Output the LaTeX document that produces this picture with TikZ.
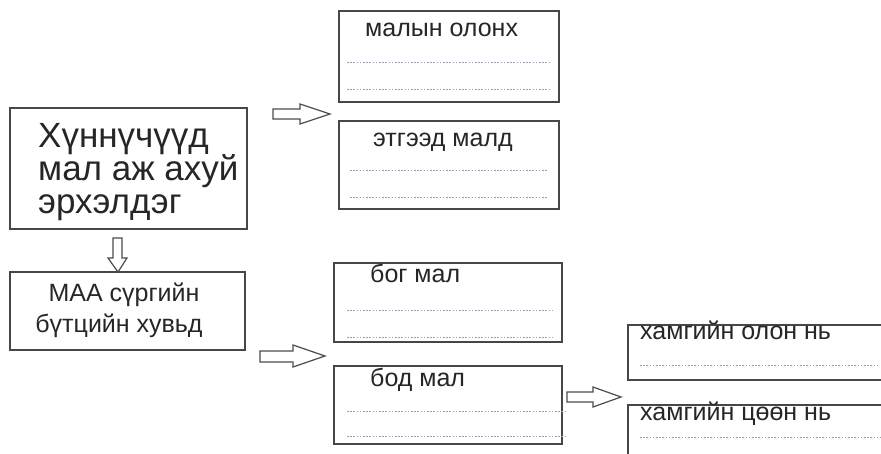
\documentclass[tikz,border=0pt]{standalone}
\usepackage{fontspec}
\setmainfont{Liberation Sans}
\definecolor{dotcol}{RGB}{150,158,180}
\begin{document}
\begin{tikzpicture}[x=1pt,y=-1pt,
  box/.style={draw=black!72,line width=1.5pt},
  dots/.style={draw=dotcol,line width=0.9pt,dash pattern=on 1.6pt off 1.6pt},
  blockarrow/.style={draw=black!70,line width=1.2pt,fill=white,line join=miter},
  bigtxt/.style={anchor=base west,inner sep=0pt,font=\fontsize{35}{37}\selectfont,text=black!85},
  txt/.style={anchor=base west,inner sep=0pt,font=\fontsize{25}{29}\selectfont,text=black!85}]
\useasboundingbox (0,0) rectangle (881,454);
\clip (0,0) rectangle (881,454);
\fill[white] (0,0) rectangle (881,454);

% main box
\draw[box] (10,108) rectangle (247,229);
\node[bigtxt] (h1) at (38,148) {Хүннүчүүд};
\node[bigtxt] (h2) at (38,181) {мал аж ахуй};
\node[bigtxt] (h3) at (38,214) {эрхэлдэг};

% MAA box
\draw[box] (10,272) rectangle (245,350);
\node[txt,anchor=base] (m1) at (124,302) {МАА сүргийн};
\node[txt,anchor=base] (m2) at (119,333) {бүтцийн хувьд};

% upper right boxes
\draw[box] (339,11) rectangle (559,102);
\node[txt] (a1) at (365,37) {малын олонх};
\draw[dots] (347,62) -- (550,62);
\draw[dots] (347,89) -- (550,89);

\draw[box] (339,121) rectangle (559,209);
\node[txt] (b1) at (373,147) {этгээд малд};
\draw[dots] (350,170) -- (548,170);
\draw[dots] (350,197) -- (548,197);

% lower middle boxes
\draw[box] (334,263) rectangle (562,342);
\node[txt] (c1) at (370,283) {бог мал};
\draw[dots] (347,310) -- (552,310);
\draw[dots] (347,337) -- (552,337);

\draw[box] (334,366) rectangle (562,444);
\node[txt] (d1) at (370,386) {бод мал};
\draw[dots] (347,411) -- (565,411);
\draw[dots] (347,436) -- (565,436);

% far right boxes
\draw[box] (628,325) rectangle (900,380);
\node[txt] (e1) at (640,340) {хамгийн олон нь};
\draw[dots] (640,365) -- (878,365);

\draw[box] (628,405) rectangle (900,475);
\node[txt] (f1) at (640,420) {хамгийн цөөн нь};
\draw[dots] (640,437) -- (881,437);

% block arrows
\draw[blockarrow] (273,109) -- (300,109) -- (300,104) -- (330,114) -- (300,124) -- (300,119) -- (273,119) -- cycle;
\draw[blockarrow] (260,351) -- (293,351) -- (293,345) -- (325,356) -- (293,367) -- (293,362) -- (260,362) -- cycle;
\draw[blockarrow] (567,392) -- (593,392) -- (593,387) -- (621,397) -- (593,407) -- (593,402) -- (567,402) -- cycle;
\draw[blockarrow] (113,238) -- (122,238) -- (122,258) -- (127,258) -- (118,272) -- (108,258) -- (113,258) -- cycle;
\end{tikzpicture}
\end{document}
